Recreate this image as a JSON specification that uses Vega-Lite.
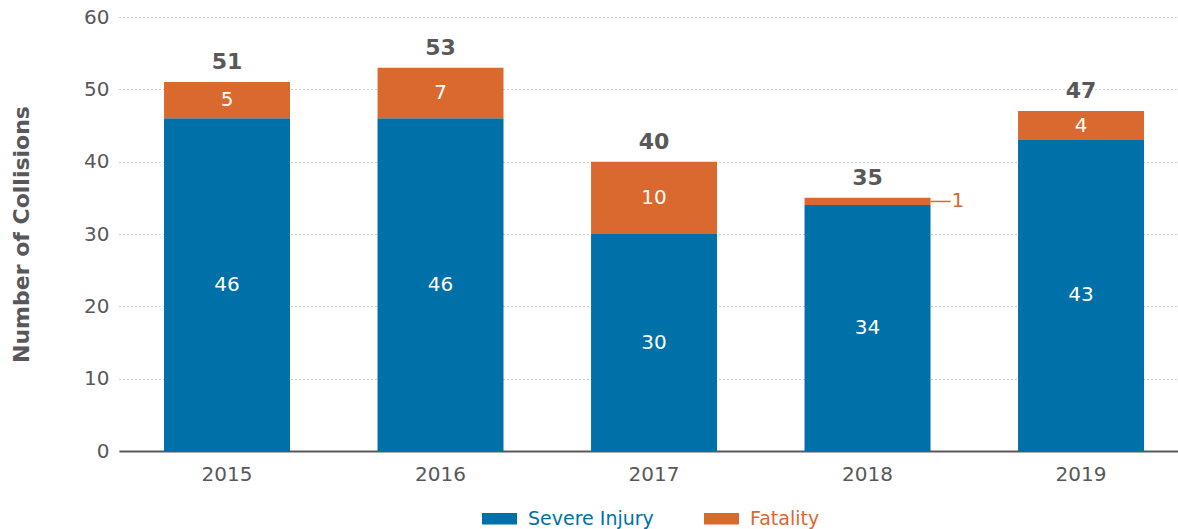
{
  "$schema": "https://vega.github.io/schema/vega-lite/v6.json",
  "width": 1059,
  "height": 434,
  "autosize": "none",
  "padding": {"left": 119, "top": 17, "right": 0, "bottom": 78},
  "config": {"view": {"stroke": null}, "font": "DejaVu Sans"},
  "data": {
    "values": [
      {"year": "2015", "type": "Severe Injury", "value": 46},
      {"year": "2015", "type": "Fatality", "value": 5},
      {"year": "2016", "type": "Severe Injury", "value": 46},
      {"year": "2016", "type": "Fatality", "value": 7},
      {"year": "2017", "type": "Severe Injury", "value": 30},
      {"year": "2017", "type": "Fatality", "value": 10},
      {"year": "2018", "type": "Severe Injury", "value": 34},
      {"year": "2018", "type": "Fatality", "value": 1},
      {"year": "2019", "type": "Severe Injury", "value": 43},
      {"year": "2019", "type": "Fatality", "value": 4}
    ]
  },
  "encoding": {
    "x": {
      "field": "year",
      "type": "nominal",
      "scale": {"paddingInner": 0.41, "paddingOuter": 0.185, "align": 0.57},
      "axis": {
        "title": null,
        "labelAngle": 0,
        "labelFontSize": 20,
        "labelColor": "#58585a",
        "labelPadding": 13,
        "ticks": false,
        "domainColor": "#58585a",
        "domainWidth": 2,
        "grid": false
      }
    }
  },
  "layer": [
    {
      "mark": {"type": "bar"},
      "encoding": {
        "y": {
          "field": "value",
          "type": "quantitative",
          "stack": "zero",
          "scale": {"domain": [0, 60]},
          "axis": {
            "title": "Number of Collisions",
            "titleFontSize": 22,
            "titleFontWeight": "bold",
            "titleColor": "#58585a",
            "titlePadding": 50,
            "values": [0, 10, 20, 30, 40, 50, 60],
            "labelFontSize": 20,
            "labelColor": "#58585a",
            "labelPadding": 10,
            "domain": false,
            "ticks": false,
            "grid": true,
            "gridDash": [1, 3],
            "gridColor": "#9a9a9a",
            "gridWidth": 1
          }
        },
        "color": {
          "field": "type",
          "type": "nominal",
          "scale": {"domain": ["Severe Injury", "Fatality"], "range": ["#0070a8", "#d9692e"]},
          "legend": {
            "title": null,
            "orient": "none",
            "direction": "horizontal",
            "legendX": 363,
            "legendY": 484,
            "symbolType": "M-1,-0.33h2v0.66h-2z",
            "symbolSize": 1225,
            "symbolStrokeWidth": 0,
            "labelFontSize": 19,
            "labelOffset": 11,
            "columnPadding": 50,
            "encode": {
              "labels": {
                "update": {
                  "fill": {"signal": "datum.value === 'Fatality' ? '#d9692e' : '#0070a8'"}
                }
              }
            }
          }
        },
        "order": {"field": "type", "sort": "descending"}
      }
    },
    {
      "transform": [
        {"stack": "value", "groupby": ["year"], "sort": [{"field": "type", "order": "descending"}], "as": ["v0", "v1"]},
        {"calculate": "(datum.v0 + datum.v1) / 2", "as": "mid"},
        {"filter": "datum.value > 1"}
      ],
      "mark": {"type": "text", "color": "white", "fontSize": 20, "baseline": "middle"},
      "encoding": {
        "y": {"field": "mid", "type": "quantitative"},
        "text": {"field": "value", "type": "quantitative"}
      }
    },
    {
      "transform": [
        {"aggregate": [{"op": "sum", "field": "value", "as": "total"}], "groupby": ["year"]}
      ],
      "mark": {"type": "text", "color": "#58585a", "fontSize": 22, "fontWeight": "bold", "baseline": "middle", "dy": -20},
      "encoding": {
        "y": {"field": "total", "type": "quantitative"},
        "text": {"field": "total", "type": "quantitative"}
      }
    },
    {
      "transform": [
        {"stack": "value", "groupby": ["year"], "sort": [{"field": "type", "order": "descending"}], "as": ["v0", "v1"]},
        {"calculate": "(datum.v0 + datum.v1) / 2", "as": "mid"},
        {"filter": "datum.value <= 1"}
      ],
      "mark": {"type": "rule", "color": "#d9692e", "strokeWidth": 1.5},
      "encoding": {
        "x": {"field": "year", "type": "nominal", "bandPosition": 1},
        "x2": {"field": "year", "bandPosition": 1.16},
        "y": {"field": "mid", "type": "quantitative"}
      }
    },
    {
      "transform": [
        {"stack": "value", "groupby": ["year"], "sort": [{"field": "type", "order": "descending"}], "as": ["v0", "v1"]},
        {"calculate": "(datum.v0 + datum.v1) / 2", "as": "mid"},
        {"filter": "datum.value <= 1"}
      ],
      "mark": {"type": "text", "color": "#d9692e", "fontSize": 20, "baseline": "middle", "align": "left", "dx": 84},
      "encoding": {
        "y": {"field": "mid", "type": "quantitative"},
        "text": {"field": "value", "type": "quantitative"}
      }
    }
  ]
}
